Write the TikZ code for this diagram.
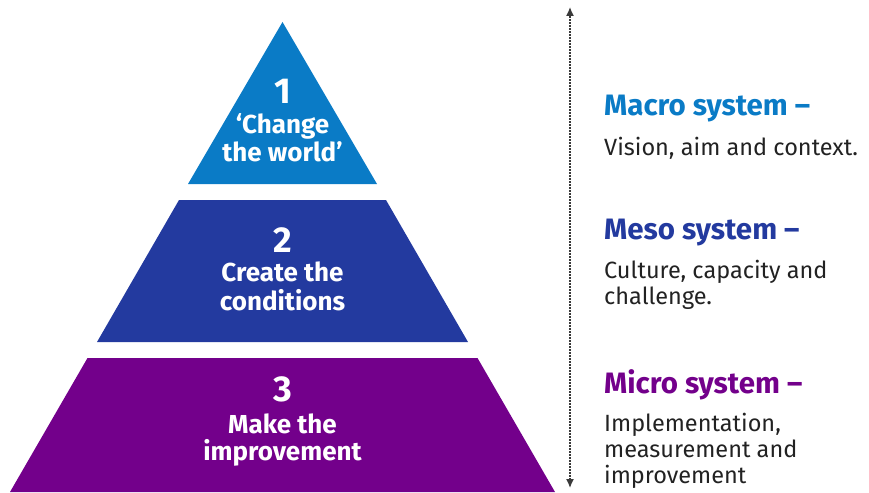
\documentclass[tikz,border=0pt]{standalone}
\usepackage{fontspec}
\setmainfont{Fira Sans}
\usetikzlibrary{arrows.meta}
\definecolor{macroblue}{HTML}{0A7BC6}
\definecolor{mesoblue}{HTML}{233A9F}
\definecolor{micropurple}{HTML}{73008B}
\definecolor{bodygray}{HTML}{222222}
\definecolor{arrowgray}{HTML}{3A3A3A}
\tikzset{
  tiernum/.style={anchor=base, text=white, font=\bfseries\fontsize{36}{36}\selectfont, inner sep=0pt},
  tiertext/.style={anchor=base, text=white, font=\bfseries\fontsize{26}{28}\selectfont, inner sep=0pt, align=center},
  headtext/.style={anchor=base west, font=\bfseries\fontsize{29.5}{30}\selectfont, inner sep=0pt},
  bodytext/.style={anchor=base west, text=bodygray, font=\fontsize{23.5}{26}\selectfont, inner sep=0pt, align=left},
  scalearrow/.style={arrowgray, line width=1.4pt, dash pattern=on 1.6pt off 1.4pt, {Latex[length=9pt,width=8pt]}-{Latex[length=9pt,width=8pt]}}
}
\begin{document}
\begin{tikzpicture}[x=1pt,y=-1pt]
\useasboundingbox (0,0) rectangle (869,492);
% pyramid tiers
\fill[macroblue] (282.5,22) -- (377,184) -- (188,184) -- cycle;
\fill[mesoblue] (179,200) -- (386,200) -- (468,342) -- (97,342) -- cycle;
\fill[micropurple] (87.5,358) -- (477.5,358) -- (555,492) -- (10,492) -- cycle;
% tier labels
\node[tiernum] (n1) at (282.5,103) {1};
\node[tiertext] (t1a) at (282.5,133) {‘Change};
\node[tiertext] (t1b) at (282.5,161) {the world’};
\node[tiernum] (n2) at (282.5,252) {2};
\node[tiertext] (t2a) at (282.5,281) {Create the};
\node[tiertext] (t2b) at (282.5,310) {conditions};
\node[tiernum] (n3) at (282.5,401) {3};
\node[tiertext] (t3a) at (282.5,433) {Make the};
\node[tiertext] (t3b) at (282.5,460) {improvement};
% scale arrow
\coordinate (atop) at (570,7);
\coordinate (abot) at (570,488);
\draw[scalearrow] (abot) -- (atop);
% right-hand descriptions
\node[headtext, text=macroblue] (h1) at (604,115) {Macro system –};
\node[bodytext] (b1) at (604,155) {Vision, aim and context.};
\node[headtext, text=mesoblue] (h2) at (604,239) {Meso system –};
\node[bodytext] (b2a) at (604,278) {Culture, capacity and};
\node[bodytext] (b2b) at (604,304) {challenge.};
\node[headtext, text=micropurple] (h3) at (604,393) {Micro system –};
\node[bodytext] (b3a) at (604,431) {Implementation,};
\node[bodytext] (b3b) at (604,457) {measurement and};
\node[bodytext] (b3c) at (604,483) {improvement};
\end{tikzpicture}
\end{document}
